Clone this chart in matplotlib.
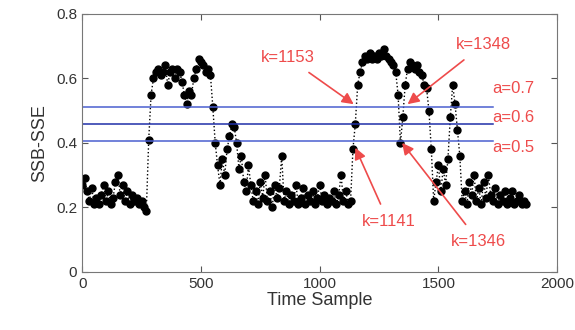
import numpy as np
import matplotlib
matplotlib.use('Agg')
import matplotlib.pyplot as plt

plt.rcParams['font.family'] = ['Liberation Sans', 'DejaVu Sans']

# SSB-SSE, every 10 samples
t = list(range(0, 1880, 10))
ssb_sse = [
    0.27, 0.29, 0.25, 0.22, 0.26, 0.21, 0.23, 0.21, 0.24, 0.27,
    0.22, 0.25, 0.21, 0.23, 0.28, 0.30, 0.24, 0.27, 0.22, 0.25,
    0.21, 0.24, 0.22, 0.23, 0.21, 0.22, 0.20, 0.19, 0.41, 0.55,
    0.60, 0.62, 0.63, 0.61, 0.62, 0.64, 0.58, 0.62, 0.63, 0.60,
    0.63, 0.62, 0.59, 0.55, 0.52, 0.56, 0.55, 0.60, 0.63, 0.66,
    0.65, 0.64, 0.62, 0.63, 0.61, 0.51, 0.40, 0.33, 0.27, 0.35,
    0.30, 0.38, 0.42, 0.46, 0.45, 0.40, 0.32, 0.36, 0.28, 0.25,
    0.33, 0.27, 0.22, 0.25, 0.21, 0.28, 0.23, 0.30, 0.22, 0.25,
    0.20, 0.27, 0.23, 0.26, 0.36, 0.22, 0.25, 0.21, 0.24, 0.22,
    0.27, 0.21, 0.23, 0.26, 0.21, 0.24, 0.22, 0.25, 0.21, 0.23,
    0.27, 0.22, 0.24, 0.21, 0.23, 0.22, 0.25, 0.21, 0.24, 0.30,
    0.22, 0.25, 0.21, 0.22, 0.38, 0.46, 0.58, 0.62, 0.65, 0.67,
    0.66, 0.68, 0.66, 0.67, 0.66, 0.68, 0.67, 0.69, 0.67, 0.66,
    0.65, 0.64, 0.62, 0.55, 0.40, 0.48, 0.58, 0.63, 0.65, 0.64,
    0.63, 0.64, 0.62, 0.61, 0.58, 0.57, 0.50, 0.38, 0.22, 0.28,
    0.33, 0.25, 0.32, 0.27, 0.35, 0.48, 0.58, 0.52, 0.44, 0.36,
    0.22, 0.25, 0.21, 0.28, 0.24, 0.30, 0.22, 0.26, 0.21, 0.28,
    0.23, 0.30, 0.24, 0.22, 0.26, 0.21, 0.24, 0.22, 0.25, 0.21,
    0.23, 0.25, 0.21, 0.22, 0.24, 0.21, 0.22, 0.21,
]

thresholds = [0.51, 0.46, 0.405]
thr_labels = ['a=0.7', 'a=0.6', 'a=0.5']
thr_label_y = [0.57, 0.478, 0.385]
thr_colors = ['#4a5fd0', '#1f2fa8', '#4a5fd0']

# annotations: text, text position, arrow tip
ann_text = ['k=1153', 'k=1141', 'k=1348', 'k=1346']
ann_xy = [(1143, 0.52), (1150, 0.385), (1370, 0.52), (1347, 0.40)]
ann_xytext = [(865, 0.665), (1290, 0.155), (1690, 0.705), (1670, 0.095)]

red = '#ee4b4b'

fig = plt.figure(figsize=(5.75, 3.3), dpi=100)
ax = fig.add_axes([0.143, 0.176, 0.826, 0.782])

ax.plot(t, ssb_sse, color='black', linestyle=':', linewidth=1,
        marker='o', markersize=5)

for y, c in zip(thresholds, thr_colors):
    ax.plot([0, 1730], [y, y], color=c, linewidth=1.1)

for lab, y in zip(thr_labels, thr_label_y):
    ax.text(1725, y, lab, color=red, fontsize=12, ha='left', va='center')

for txt, xy, xyt in zip(ann_text, ann_xy, ann_xytext):
    ax.annotate(txt, xy=xy, xytext=xyt, color=red, fontsize=12,
                ha='center', va='center',
                arrowprops=dict(arrowstyle='-|>', color=red, lw=1.2,
                                mutation_scale=17, shrinkA=6, shrinkB=0))

ax.set_xlim(0, 2000)
ax.set_ylim(0, 0.8)
ax.set_xticks([0, 500, 1000, 1500, 2000])
ax.set_yticks([0, 0.2, 0.4, 0.6, 0.8])
ax.set_yticklabels(['0', '0.2', '0.4', '0.6', '0.8'])
ax.tick_params(direction='in', top=True, right=True, labelsize=11,
               colors='#555555', labelcolor='#333333', length=4)
for s in ax.spines.values():
    s.set_color('#777777')
ax.set_xlabel('Time Sample', fontsize=13, color='#333333', labelpad=1)
ax.set_ylabel('SSB-SSE', fontsize=13, color='#333333', labelpad=6)

fig.savefig('out.png', dpi=100)
